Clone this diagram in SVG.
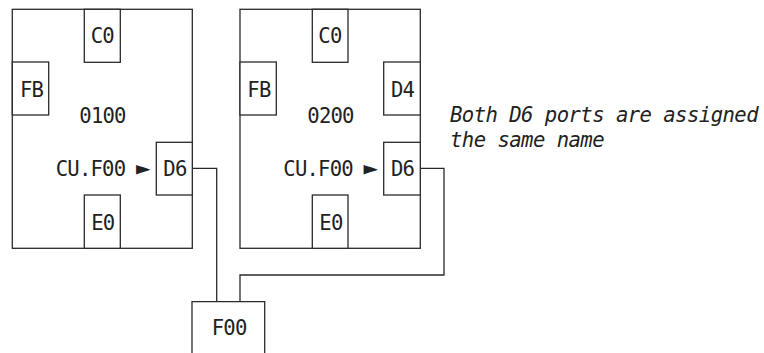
<svg xmlns="http://www.w3.org/2000/svg" width="764" height="353" viewBox="0 0 764 353">
<style>
.b{fill:none;stroke:#2a2a2a;stroke-width:1.3}
.w{fill:#fff;stroke:#2a2a2a;stroke-width:1.3}
.t{font-family:"DejaVu Sans Mono","Liberation Mono",monospace;font-size:20.6px;letter-spacing:-0.8px;fill:#222}
.a{font-size:24px}
.i{font-family:"DejaVu Sans Mono","Liberation Mono",monospace;font-size:20.6px;letter-spacing:-0.55px;font-style:italic;fill:#222}
</style>
<rect width="764" height="353" fill="#fff"/>
<g id="connectors">
<polyline class="b" points="192.3,168.3 216.7,168.3 216.7,301.7"/>
<polyline class="b" points="420.3,168.3 444,168.3 444,275 240,275 240,301.7"/>
</g>
<g id="unit0100">
<rect class="b" x="12.3" y="9.3" width="180" height="239"/>
<text class="t" x="79.3" y="123">0100</text>
<text class="t" x="55.7" y="175.7">CU.F00 <tspan class="a" dx="-1" dy="0.3">►</tspan></text>
</g>
<g id="u0100-C0"><rect class="w" x="84.3" y="9.3" width="36" height="53"/><text class="t" x="90.7" y="43.3">C0</text></g>
<g id="u0100-FB"><rect class="w" x="12.3" y="62" width="36.4" height="53"/><text class="t" x="20" y="96.7">FB</text></g>
<g id="u0100-D6"><rect class="w" x="156.3" y="142.3" width="36" height="52.7"/><text class="t" x="163.3" y="175.7">D6</text></g>
<g id="u0100-E0"><rect class="w" x="84.3" y="195" width="36" height="53.3"/><text class="t" x="91.2" y="230">E0</text></g>
<g id="unit0200">
<rect class="b" x="240" y="9.3" width="180.3" height="239"/>
<text class="t" x="307.3" y="123">0200</text>
<text class="t" x="283.3" y="175.7">CU.F00 <tspan class="a" dx="-1" dy="0.3">►</tspan></text>
</g>
<g id="u0200-C0"><rect class="w" x="312.3" y="9.3" width="35.7" height="53"/><text class="t" x="318.3" y="43.3">C0</text></g>
<g id="u0200-FB"><rect class="w" x="240" y="62" width="36.3" height="53"/><text class="t" x="247.3" y="96.7">FB</text></g>
<g id="u0200-D4"><rect class="w" x="383.7" y="62" width="36.6" height="53"/><text class="t" x="391" y="96.7">D4</text></g>
<g id="u0200-D6"><rect class="w" x="383.7" y="142.3" width="36.6" height="52.7"/><text class="t" x="391" y="175.7">D6</text></g>
<g id="u0200-E0"><rect class="w" x="312.3" y="195" width="35.7" height="53.3"/><text class="t" x="319.3" y="230">E0</text></g>
<g id="f00">
<polyline class="b" points="192,353 192,301.7 264.7,301.7 264.7,353"/>
<text class="t" x="211.7" y="335">F00</text>
</g>
<g id="note">
<text class="i" x="450" y="122">Both D6 ports are assigned</text>
<text class="i" x="450" y="147">the same name</text>
</g>
</svg>
